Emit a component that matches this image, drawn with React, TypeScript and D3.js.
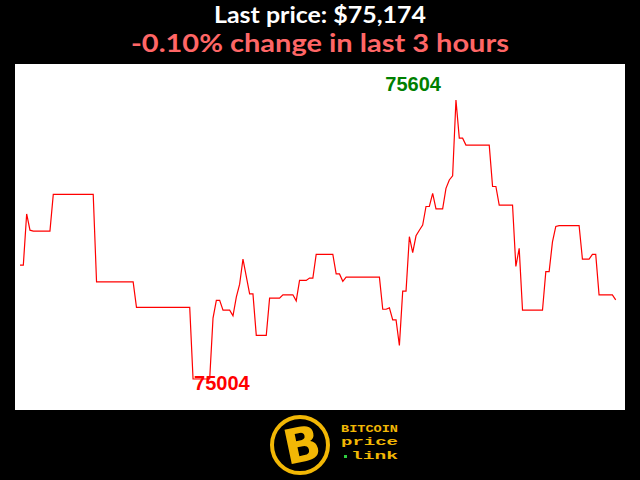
import React from "react";
import * as d3 from "d3";

const minutes = [0,1,2,3,4,9,10,22,23,34,35,51,52,57,58,59,60,61,63,64,65,66,67,69,70,71,74,75,78,79,82,83,84,86,87,88,89,94,95,96,97,98,108,109,110,111,112,113,114,115,116,117,118,119,120,121,122,123,124,125,127,128,129,130,131,132,133,134,141,142,143,144,148,149,150,151,157,158,159,160,161,162,168,169,171,172,173,174,178,179];
const prices = [75249,75249,75359,75324,75322,75322,75401,75401,75213,75213,75158,75158,75004,75004,75135,75173,75173,75152,75152,75140,75180,75208,75262,75187,75187,75098,75098,75178,75178,75185,75185,75172,75216,75216,75221,75221,75272,75272,75230,75230,75214,75223,75223,75154,75154,75157,75131,75131,75076,75193,75193,75310,75276,75312,75324,75335,75375,75375,75403,75370,75370,75414,75432,75441,75604,75522,75522,75507,75507,75418,75418,75378,75378,75246,75285,75152,75152,75235,75235,75299,75332,75334,75334,75262,75262,75272,75272,75185,75185,75174];

const titleText = "Last price: $75,174";
const changeText = "-0.10% change in last 3 hours";
const logoLines = ["BITCOIN", "price", "link"];

export default function App() {
  const W = 640, H = 480;
  const data = minutes.map((m, i) => ({ m, p: prices[i] }));
  const x = d3.scaleLinear().domain([0, 179]).range([20, 615.7]);
  const y = d3.scaleLinear().domain([75004, 75604]).range([379, 100]);
  const line = d3.line<{ m: number; p: number }>().x(d => x(d.m)).y(d => y(d.p));
  const maxP = d3.max(prices)!;
  const minP = d3.min(prices)!;
  const maxI = prices.indexOf(maxP);
  const minI = prices.indexOf(minP);
  const gold = "#f2b705";
  return (
    <svg width={W} height={H} style={{ position: "absolute", left: 0, top: 0, display: "block" }}>
      <rect x={0} y={0} width={W} height={H} fill="#000" />
      <text x={320} y={23} textAnchor="middle" fill="#fff" fontFamily="Lato, sans-serif" fontWeight="bold" fontSize={23} textLength={212} lengthAdjust="spacingAndGlyphs">{titleText}</text>
      <text x={320} y={52} textAnchor="middle" fill="#ff6666" fontFamily="Lato, sans-serif" fontWeight="bold" fontSize={25} textLength={378} lengthAdjust="spacingAndGlyphs">{changeText}</text>
      <rect x={15} y={64} width={610} height={346} fill="#fff" />
      <path d={line(data) || ""} fill="none" stroke="#ff0000" strokeWidth={1.2} />
      <text x={x(minutes[maxI]) - 15} y={y(maxP) - 9} textAnchor="end" fill="#008000" fontFamily="'Liberation Sans', Arial, sans-serif" fontWeight="bold" fontSize={20}>{maxP}</text>
      <text x={x(minutes[minI]) + 1} y={y(minP) + 11} textAnchor="start" fill="#ff0000" fontFamily="'Liberation Sans', Arial, sans-serif" fontWeight="bold" fontSize={20}>{minP}</text>
      <g>
        <circle cx={300} cy={445} r={28} fill="#000" stroke={gold} strokeWidth={4} />
        <text x={302} y={462} textAnchor="middle" fill={gold} fontFamily="'DejaVu Sans', sans-serif" fontWeight="bold" fontSize={48} transform="rotate(-12 300 445)">B</text>
        <text x={341} y={432} fill={gold} fontFamily="'Liberation Mono', monospace" fontWeight="bold" fontSize={11} textLength={57} lengthAdjust="spacingAndGlyphs">{logoLines[0]}</text>
        <text x={341} y={445} fill={gold} fontFamily="'Liberation Mono', monospace" fontWeight="bold" fontSize={11} textLength={57} lengthAdjust="spacingAndGlyphs">{logoLines[1]}</text>
        <rect x={344} y={455} width={3} height={3} fill="#2ecc40" />
        <text x={351} y={459} fill={gold} fontFamily="'Liberation Mono', monospace" fontWeight="bold" fontSize={11} textLength={47} lengthAdjust="spacingAndGlyphs">{logoLines[2]}</text>
      </g>
    </svg>
  );
}
